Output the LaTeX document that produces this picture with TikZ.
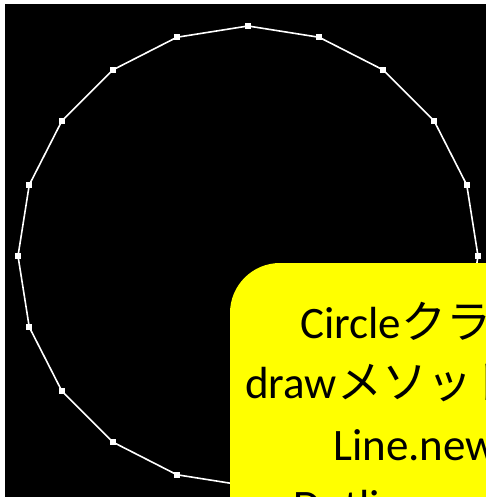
\documentclass[tikz,border=0pt]{standalone}
\usepackage{fontspec}
\setmainfont{Carlito}
\newfontfamily\jp{Noto Sans CJK JP}
\definecolor{calloutyellow}{RGB}{255,255,0}
\begin{document}
\begin{tikzpicture}[x=1pt,y=-1pt,
  vtx/.style={fill=white,inner sep=0pt,minimum size=6pt,draw=none,rectangle},
  edge/.style={draw=white,line width=1.6pt},
  callout/.style={fill=calloutyellow,draw=none,rounded corners=50pt},
  txt/.style={anchor=base west,inner sep=0pt,font=\fontsize{45}{56}\selectfont}]
\useasboundingbox (0,0) rectangle (486,497);
\fill[white] (0,0) rectangle (486,497);
\fill[black] (5,4) rectangle (486,497);
\begin{scope}
\clip (5,4) rectangle (486,497);
\foreach \k in {0,...,19} {
  \coordinate (v\k) at ({248+230*cos(90-18*\k)},{256-230*sin(90-18*\k)});
}
\foreach \k [evaluate=\k as \n using {int(mod(\k+1,20))}] in {0,...,19} {
  \draw[edge] (v\k) -- (v\n);
}
\foreach \k in {0,...,19} {
  \node[vtx] (s\k) at (v\k) {};
}
\path[callout] (230,263) rectangle (620,640);
\node[txt] (l1) at (300,338) {Circle{\jp クラスの}};
\node[txt] (l2) at (245,398) {draw{\jp メソッドで}};
\node[txt] (l3) at (333,460) {Line.new{\jp を}};
\node[txt] (l4) at (293,521) {Dotline};
\end{scope}
\end{tikzpicture}
\end{document}
